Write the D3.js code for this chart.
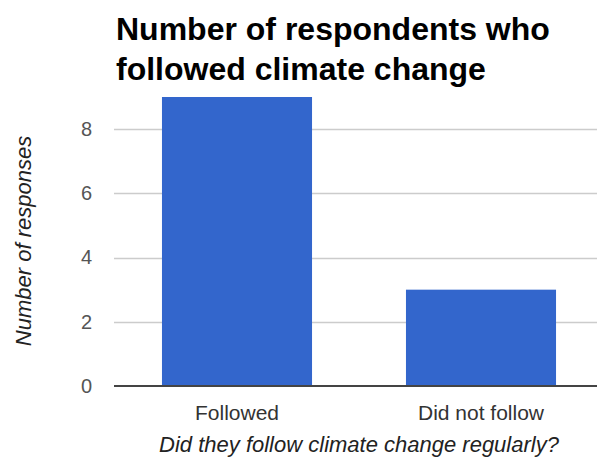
<!DOCTYPE html>
<html>
<head>
<meta charset="utf-8">
<script src="https://cdn.jsdelivr.net/npm/d3@7"></script>
<style>
  html, body { margin: 0; padding: 0; background: #fff; }
  svg { display: block; font-family: Arial, "Liberation Sans", sans-serif; }
</style>
</head>
<body>
<svg id="chart" width="597" height="460"></svg>
<script>
// Survey responses
const categories = ["Followed", "Did not follow"];
const responses = [9, 3];
const yTicks = [0, 2, 4, 6, 8];
const titleLines = ["Number of respondents who", "followed climate change"];
const xTitle = "Did they follow climate change regularly?";
const yTitle = "Number of responses";

const svg = d3.select("#chart");
const plot = { left: 115, right: 603, top: 97, bottom: 386 };

const x = d3.scaleBand()
  .domain(categories)
  .range([plot.left, plot.right])
  .paddingInner(0.385)
  .paddingOuter(0.1925);

const y = d3.scaleLinear()
  .domain([0, 9])
  .range([plot.bottom, plot.top]);

// Title
svg.append("g")
  .selectAll("text")
  .data(titleLines)
  .join("text")
  .attr("x", 116)
  .attr("y", (d, i) => 40 + i * 39.5)
  .attr("font-size", 32)
  .attr("font-weight", "bold")
  .attr("fill", "#000")
  .text(d => d);

// Horizontal gridlines
svg.append("g")
  .selectAll("line")
  .data(yTicks.filter(t => t !== 0))
  .join("line")
  .attr("x1", 114).attr("x2", 597)
  .attr("y1", d => Math.round(y(d)) + 0.5)
  .attr("y2", d => Math.round(y(d)) + 0.5)
  .attr("stroke", "#cccccc")
  .attr("stroke-width", 1.5);

// Y axis tick labels
const yAxis = d3.axisLeft(y).tickValues(yTicks).tickSize(0).tickPadding(0);
const gy = svg.append("g")
  .attr("transform", "translate(92,0)")
  .call(yAxis);
gy.select(".domain").remove();
gy.selectAll("text")
  .attr("font-size", 20)
  .attr("font-family", "Arial, 'Liberation Sans', sans-serif")
  .attr("fill", "#555");

// Bars
svg.append("g")
  .selectAll("rect")
  .data(categories.map((c, i) => ({ c, v: responses[i] })))
  .join("rect")
  .attr("x", d => x(d.c))
  .attr("width", x.bandwidth())
  .attr("y", d => y(d.v))
  .attr("height", d => y(0) - y(d.v))
  .attr("fill", "#3366cc");

// Baseline
svg.append("line")
  .attr("x1", 114).attr("x2", 597)
  .attr("y1", y(0)).attr("y2", y(0))
  .attr("stroke", "#444")
  .attr("stroke-width", 2);

// X axis category labels
const xAxis = d3.axisBottom(x).tickSize(0).tickPadding(0);
const gx = svg.append("g")
  .call(xAxis);
gx.select(".domain").remove();
gx.selectAll("text")
  .attr("y", 420)
  .attr("dy", null)
  .attr("font-size", 21)
  .attr("font-family", "Arial, 'Liberation Sans', sans-serif")
  .attr("fill", "#333");

// Axis titles
svg.append("text")
  .attr("x", 359)
  .attr("y", 452)
  .attr("text-anchor", "middle")
  .attr("font-size", 22)
  .attr("font-style", "italic")
  .attr("fill", "#222")
  .text(xTitle);

svg.append("text")
  .attr("transform", "translate(31,241) rotate(-90)")
  .attr("text-anchor", "middle")
  .attr("font-size", 22)
  .attr("font-style", "italic")
  .attr("fill", "#222")
  .text(yTitle);
</script>
</body>
</html>
